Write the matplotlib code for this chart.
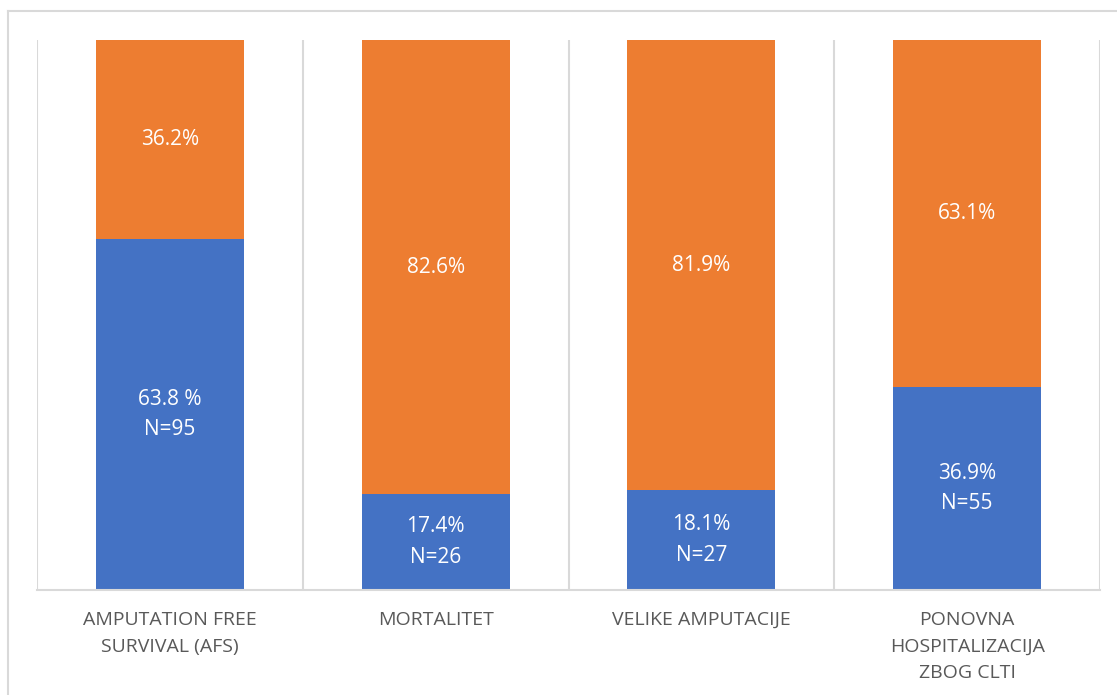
import matplotlib.pyplot as plt
from matplotlib.lines import Line2D
import numpy as np

plt.rcParams['font.family'] = ['Open Sans', 'DejaVu Sans']

# 数据
categories = ['AMPUTATION FREE\nSURVIVAL (AFS)', 'MORTALITET', 'VELIKE AMPUTACIJE',
              'PONOVNA\nHOSPITALIZACIJA\nZBOG CLTI']
blue_pct = [63.8, 17.4, 18.1, 36.9]
orange_pct = [36.2, 82.6, 81.9, 63.1]
blue_n = [95, 26, 27, 55]
blue_labels = ['63.8 %\nN=95', '17.4%\nN=26', '18.1%\nN=27', '36.9%\nN=55']
orange_labels = ['36.2%', '82.6%', '81.9%', '63.1%']

fig = plt.figure(figsize=(11.17, 6.95), dpi=100)
ax = fig.add_axes([37 / 1117, 1 - 590 / 695, (1100 - 37) / 1117, (590 - 40) / 695])

x = np.arange(len(categories))
w = 0.557
ax.bar(x, blue_pct, width=w, color='#4472C4', zorder=2)
ax.bar(x, orange_pct, width=w, bottom=blue_pct, color='#ED7D31', zorder=2)

for i in range(len(x)):
    ax.text(x[i], blue_pct[i] / 2, blue_labels[i], ha='center', va='center',
            color='white', fontsize=15, linespacing=1.6, zorder=3)
    ax.text(x[i], blue_pct[i] + orange_pct[i] / 2, orange_labels[i], ha='center', va='center',
            color='white', fontsize=15, zorder=3)

ax.set_xlim(-0.5, len(x) - 0.5)
ax.set_ylim(0, 100)
ax.set_xticks(x)
ax.set_xticklabels(categories, color='#595959', fontsize=14, linespacing=1.62)
ax.set_xticks(np.arange(len(x) + 1) - 0.5, minor=True)
ax.tick_params(axis='x', which='both', length=0, pad=15)
ax.set_yticks([])
ax.grid(axis='x', which='minor', color='#D9D9D9', linewidth=1.5, zorder=0)
for s in ['top', 'left', 'right']:
    ax.spines[s].set_visible(False)
ax.spines['bottom'].set_color('#D9D9D9')
ax.spines['bottom'].set_linewidth(1.5)

# 外框
fig.add_artist(Line2D([8 / 1117, 1.0], [1 - 11 / 695, 1 - 11 / 695], color='#D9D9D9', linewidth=1.5))
fig.add_artist(Line2D([8 / 1117, 8 / 1117], [0, 1 - 11 / 695], color='#D9D9D9', linewidth=1.5))

fig.savefig('out.png', dpi=100)
